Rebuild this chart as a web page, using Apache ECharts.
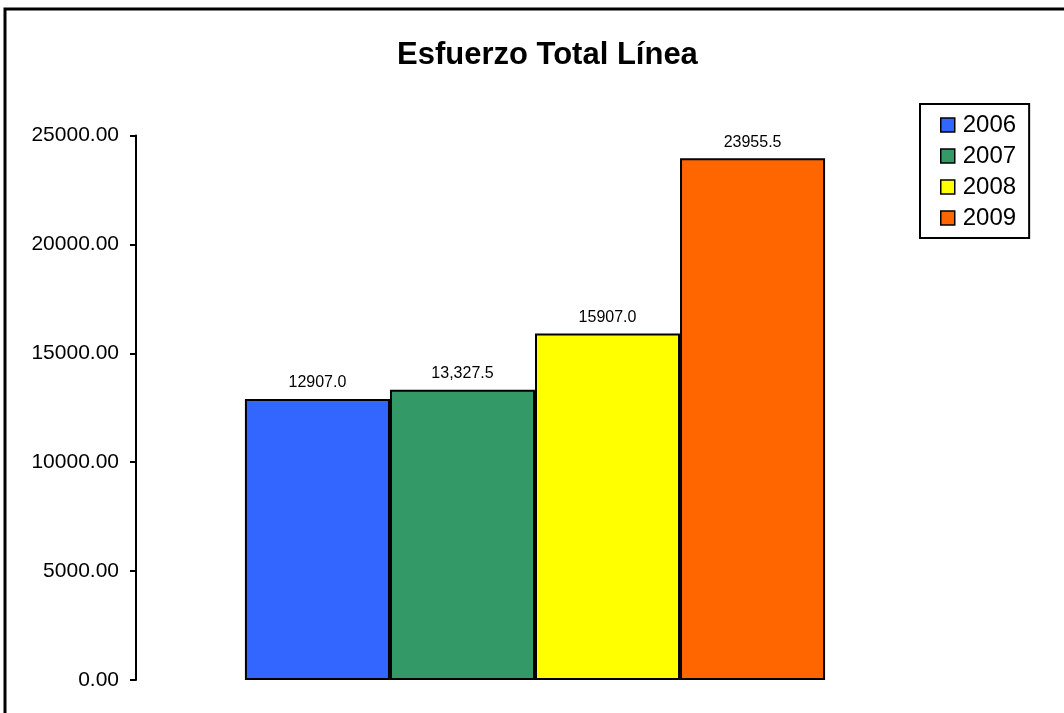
<!DOCTYPE html>
<html>
<head>
<meta charset="utf-8">
<script src="https://cdn.jsdelivr.net/npm/echarts@6/dist/echarts.min.js"></script>
<style>
  html, body { margin: 0; padding: 0; background: #fff; }
  #chart { width: 1064px; height: 713px; }
</style>
</head>
<body>
<div id="chart"></div>
<script>
const titleText = 'Esfuerzo Total Línea';
const categories = [''];
const seriesNames = ['2006', '2007', '2008', '2009'];
const seriesValues = [12907.0, 13327.5, 15907.0, 23955.5];
const labelTexts = ['12907.0', '13,327.5', '15907.0', '23955.5'];
const seriesColors = ['#3366FF', '#339966', '#FFFF00', '#FF6600'];
const yTicks = [0, 5000, 10000, 15000, 20000, 25000];

const FONT = '"Liberation Sans", Arial, sans-serif';
const chart = echarts.init(document.getElementById('chart'), null, { renderer: 'canvas' });

const series = seriesNames.map((name, i) => ({
  name: name,
  type: 'bar',
  data: [seriesValues[i]],
  barGap: '0%',
  barCategoryGap: '27.3%',
  itemStyle: { color: seriesColors[i], borderColor: '#000', borderWidth: 2 },
  label: {
    show: true,
    position: 'top',
    distance: 8,
    formatter: () => labelTexts[i],
    color: '#000',
    fontFamily: FONT,
    fontSize: 16
  },
  emphasis: { disabled: true }
}));

chart.setOption({
  animation: false,
  backgroundColor: '#fff',
  title: {
    text: titleText,
    left: 392,
    top: 35,
    textStyle: { fontFamily: FONT, fontSize: 31, fontWeight: 'bold', color: '#000' }
  },
  legend: {
    orient: 'vertical',
    left: 920,
    top: 104,
    padding: [9, 13, 8, 20],
    itemGap: 7,
    itemWidth: 14,
    itemHeight: 14,
    icon: 'rect',
    borderColor: '#000',
    borderWidth: 2,
    itemStyle: { borderColor: '#000', borderWidth: 1.5 },
    textStyle: { fontFamily: FONT, fontSize: 24, color: '#000', padding: [0, 0, 0, 3] },
    data: seriesNames
  },
  grid: { left: 136, right: 130, top: 135.5, bottom: 33, containLabel: false },
  xAxis: {
    type: 'category',
    data: categories,
    axisLine: { show: false },
    axisTick: { show: false },
    axisLabel: { show: false }
  },
  yAxis: {
    type: 'value',
    min: yTicks[0],
    max: yTicks[yTicks.length - 1],
    interval: yTicks[1] - yTicks[0],
    splitLine: { show: false },
    axisLine: { show: true, lineStyle: { color: '#000', width: 2 } },
    axisTick: { show: true, inside: false, length: 6, lineStyle: { color: '#000', width: 2 } },
    axisLabel: {
      margin: 17,
      color: '#000',
      fontFamily: FONT,
      fontSize: 21,
      formatter: v => v.toFixed(2)
    }
  },
  graphic: [{
    type: 'rect',
    shape: { x: 5, y: 9, width: 1200, height: 900 },
    style: { fill: 'none', stroke: '#000', lineWidth: 3 },
    silent: true,
    z: 100
  }],
  series: series
});
</script>
</body>
</html>
